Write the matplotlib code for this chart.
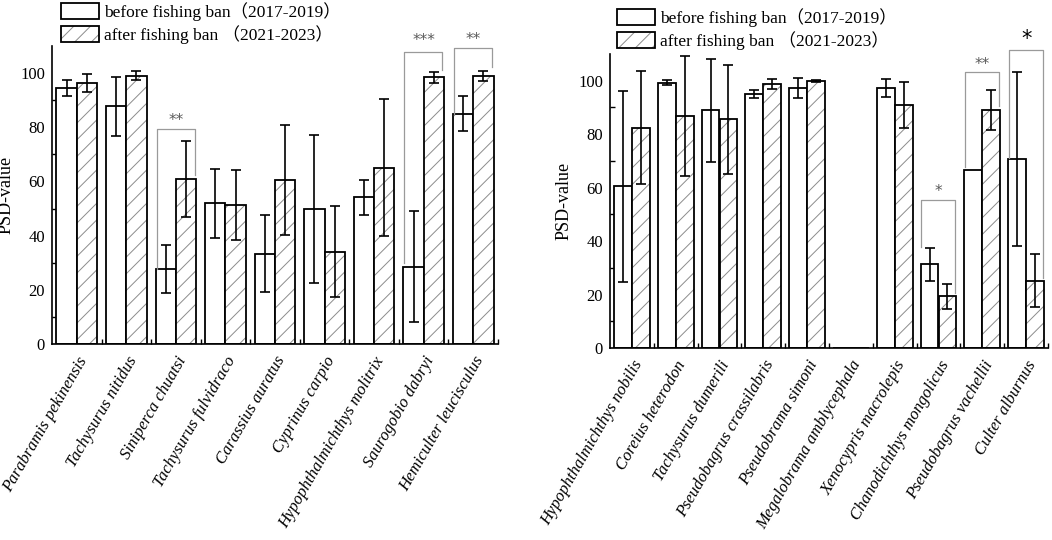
import matplotlib
matplotlib.use("Agg")
import matplotlib.pyplot as plt
import matplotlib.patches as mpatches
from matplotlib.legend_handler import HandlerTuple
import numpy as np

# ---------------- data ----------------
left_cats = ['Parabramis pekinensis', 'Tachysurus nitidus', 'Siniperca chuatsi',
             'Tachysurus fulvidraco', 'Carassius auratus', 'Cyprinus carpio',
             'Hypophthalmichthys molitrix', 'Saurogobio dabryi', 'Hemiculter leucisculus']
left_before = [94.5, 87.7, 27.7, 51.9, 33.3, 49.7, 54.1, 28.5, 85.0]
left_before_err = [3.0, 10.8, 9.0, 12.8, 14.2, 27.3, 6.5, 20.5, 6.5]
left_after = [96.4, 99.1, 60.9, 51.4, 60.5, 34.1, 65.1, 98.4, 98.8]
left_after_err = [3.4, 1.5, 14.0, 13.0, 20.3, 16.8, 25.4, 1.9, 1.8]
# significance brackets: (group, top, left leg end, right leg end, label, label centre)
left_sig = [(2, 79.2, 27.7, 62.4, '**', 84.1),
            (7, 107.9, 29.9, 101.0, '***', 113.8),
            (8, 109.1, 84.5, 102.2, '**', 114.0)]

right_cats = ['Hypophthalmichthys nobilis', 'Coreius heterodon', 'Tachysurus dumerili',
              'Pseudobagrus crassilabris', 'Pseudobrama simoni', 'Megalobrama amblycephala',
              'Xenocypris macrolepis', 'Chanodichthys mongolicus', 'Pseudobagrus vachellii',
              'Culter alburnus']
right_before = [60.5, 99.3, 88.9, 95.0, 97.3, 0.0, 97.4, 31.3, 66.6, 70.6]
right_before_err = [35.7, 0.8, 19.3, 1.4, 3.7, 0.0, 3.4, 6.2, 0.0, 32.6]
right_after = [82.5, 86.8, 85.5, 98.8, 99.8, 0.0, 91.0, 19.3, 89.0, 25.2]
right_after_err = [21.3, 22.6, 20.3, 1.9, 0.4, 0.0, 8.7, 4.6, 7.5, 10.0]
right_sig = [(7, 55.4, 37.9, 20.6, '*', 60.4),
             (8, 103.2, 67.9, 90.6, '**', 107.9),
             (9, 111.6, 71.0, 26.2, '*', 118.0)]

legend_labels = ['before fishing ban（2017-2019）', 'after fishing ban （2021-2023）']
ylabel = 'PSD-value'
yticks = [0, 20, 40, 60, 80, 100]

# ---------------- style ----------------
SERIF = ['Liberation Serif', 'DejaVu Serif']
LEGFONT = ['Liberation Serif', 'Noto Sans CJK SC', 'DejaVu Sans']
plt.rcParams['font.family'] = SERIF
plt.rcParams['hatch.linewidth'] = 0.7
HATCH_COL = '#8c8c8c'
BR_COL = '#9a9a9a'
W = 0.41
LW = 1.3

fig = plt.figure(figsize=(10.52, 5.40), dpi=100)
axL = fig.add_axes([52/1052, 1-344/540, (498-52)/1052, (344-46)/540])
axR = fig.add_axes([610/1052, 1-348/540, (1048-610)/1052, (348-54)/540])


def draw_panel(ax, cats, before, berr, after, aerr, sigs):
    n = len(cats)
    x = np.arange(n)
    b = np.array(before)
    a = np.array(after)
    be = np.array(berr)
    ae = np.array(aerr)
    ax.bar(x - W/2, b, W, facecolor='white', edgecolor='black', linewidth=LW, zorder=2)
    ax.bar(x + W/2, a, W, facecolor='white', edgecolor=HATCH_COL, hatch='//',
           linewidth=0, zorder=2)
    ax.bar(x + W/2, a, W, facecolor='none', edgecolor='black', linewidth=LW, zorder=3)
    mb = be > 0
    ma = ae > 0
    ax.errorbar((x - W/2)[mb], b[mb], yerr=be[mb], fmt='none', ecolor='black',
                elinewidth=1.2, capsize=3.3, capthick=1.2, zorder=4)
    ax.errorbar((x + W/2)[ma], a[ma], yerr=ae[ma], fmt='none', ecolor='black',
                elinewidth=1.2, capsize=3.3, capthick=1.2, zorder=4)
    for (g, top, lend, rend, lab, ly) in sigs:
        xl = g - W + 0.02
        xr = g + W - 0.03
        ax.plot([xl, xl, xr, xr], [lend, top, top, rend], color=BR_COL, lw=0.9,
                clip_on=False, zorder=5)
        if ly - top > 6:
            ax.text(g, ly - 4.7, lab, ha='center', va='baseline', fontsize=15,
                    color='black', family=['DejaVu Sans'])
        else:
            ax.text(g, ly - 3.4, lab, ha='center', va='baseline', fontsize=11,
                    color='#5a5a5a', family=['DejaVu Sans'])
    ax.set_xlim(-0.5, n - 0.5)
    ax.set_ylim(0, 110)
    ax.spines['top'].set_visible(False)
    ax.spines['right'].set_visible(False)
    for s in ('left', 'bottom'):
        ax.spines[s].set_linewidth(1.2)
    ax.set_yticks(yticks)
    ax.set_yticks([10, 30, 50, 70, 90], minor=True)
    ax.tick_params(axis='y', which='major', length=0, pad=5, labelsize=12)
    ax.tick_params(axis='y', which='minor', direction='in', length=3.5, width=1.0)
    ax.set_xticks(x)
    ax.set_xticks(np.arange(n) + 0.5, minor=True)
    ax.tick_params(axis='x', which='major', length=0, pad=7)
    ax.tick_params(axis='x', which='minor', direction='in', length=3.5, width=1.0)
    ax.set_xticklabels(cats, rotation=60, ha='right', va='top', rotation_mode='anchor',
                       fontsize=12, style='italic')
    ax.set_ylabel(ylabel, fontsize=13)


draw_panel(axL, left_cats, left_before, left_before_err, left_after, left_after_err, left_sig)
draw_panel(axR, right_cats, right_before, right_before_err, right_after, right_after_err,
           right_sig)
axL.yaxis.set_label_coords(-0.083, 0.5)
axR.yaxis.set_label_coords(-0.0845, 0.5)


def make_legend(xpix, ypix):
    h1 = mpatches.Patch(facecolor='white', edgecolor='black', linewidth=LW)
    h2a = mpatches.Patch(facecolor='white', edgecolor=HATCH_COL, hatch='//', linewidth=0)
    h2b = mpatches.Patch(facecolor='none', edgecolor='black', linewidth=LW)
    leg = fig.legend([h1, (h2a, h2b)], legend_labels,
                     handler_map={tuple: HandlerTuple(ndivide=1, pad=0)},
                     loc='upper left', bbox_to_anchor=(xpix/1052, 1 - ypix/540),
                     frameon=False, borderpad=0, borderaxespad=0,
                     handlelength=2.2, handleheight=1.05, handletextpad=0.3,
                     labelspacing=0.22, prop={'family': LEGFONT, 'size': 12.5})
    return leg


make_legend(61, 2)
make_legend(617, 8)

fig.savefig('out.png', dpi=100)
